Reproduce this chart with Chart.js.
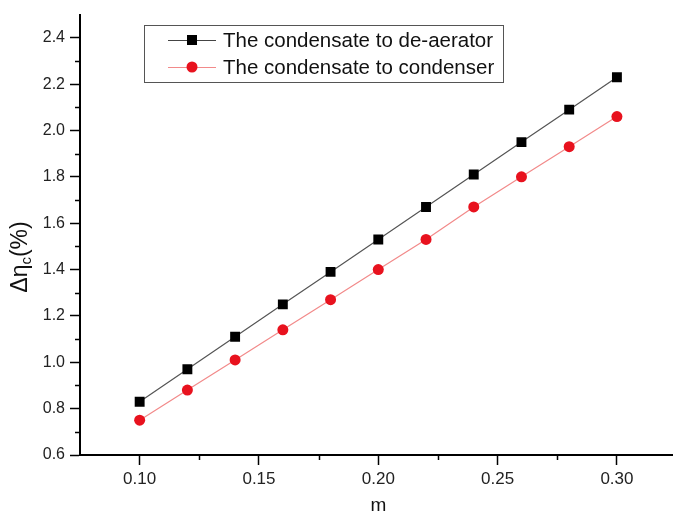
<!DOCTYPE html>
<html>
<head>
<meta charset="utf-8">
<script src="https://cdn.jsdelivr.net/npm/chart.js@4.4.0/dist/chart.umd.min.js"></script>
<style>
  body { margin: 0; background: #fff; }
</style>
</head>
<body>
<canvas id="chart" width="673" height="516"></canvas>
<script>
const mValues = [0.10, 0.12, 0.14, 0.16, 0.18, 0.20, 0.22, 0.24, 0.26, 0.28, 0.30];
const deaeratorValues = [0.83, 0.97, 1.11, 1.25, 1.39, 1.53, 1.67, 1.81, 1.95, 2.09, 2.23];
const condenserValues = [0.75, 0.88, 1.01, 1.14, 1.27, 1.40, 1.53, 1.67, 1.80, 1.93, 2.06];
const seriesNames = ["The condensate to de-aerator", "The condensate to condenser"];
const xTickLabels = [0.10, 0.15, 0.20, 0.25, 0.30];
const xMinorTicks = [0.125, 0.175, 0.225, 0.275];
const yTickLabels = [0.6, 0.8, 1.0, 1.2, 1.4, 1.6, 1.8, 2.0, 2.2, 2.4];
const yMinorTicks = [0.7, 0.9, 1.1, 1.3, 1.5, 1.7, 1.9, 2.1, 2.3];

const FONT = "'Liberation Sans', Arial, sans-serif";

// minor ticks, framed legend and the y title with its subscript
const extras = {
    id: "extras",
    afterDraw(chart) {
        const ctx = chart.ctx;
        const xs = chart.scales.x;
        const ys = chart.scales.y;
        const area = chart.chartArea;

        ctx.save();
        ctx.strokeStyle = "#000";
        ctx.lineWidth = 1.5;
        ctx.beginPath();
        yMinorTicks.forEach(v => {
            const py = Math.round(ys.getPixelForValue(v)) + 0.5;
            ctx.moveTo(area.left, py);
            ctx.lineTo(area.left - 5, py);
        });
        xMinorTicks.forEach(v => {
            const px = Math.round(xs.getPixelForValue(v)) + 0.5;
            ctx.moveTo(px, area.bottom);
            ctx.lineTo(px, area.bottom + 5);
        });
        ctx.stroke();

        // legend
        ctx.lineWidth = 1;
        ctx.strokeStyle = "#555";
        ctx.strokeRect(144.5, 25.5, 359, 57);
        const rows = [
            { y: 40, line: "#444", fill: "#000", shape: "rect" },
            { y: 67, line: "#f28a8a", fill: "#e8121e", shape: "circle" }
        ];
        ctx.font = "20.5px " + FONT;
        ctx.textBaseline = "middle";
        rows.forEach((r, i) => {
            ctx.strokeStyle = r.line;
            ctx.beginPath();
            ctx.moveTo(168, r.y + 0.5);
            ctx.lineTo(216, r.y + 0.5);
            ctx.stroke();
            ctx.fillStyle = r.fill;
            if (r.shape === "rect") {
                ctx.fillRect(187, r.y - 5, 10, 10);
            } else {
                ctx.beginPath();
                ctx.arc(192, r.y, 5.5, 0, Math.PI * 2);
                ctx.fill();
            }
            ctx.fillStyle = "#111";
            ctx.fillText(seriesNames[i], 223, r.y + 1);
        });

        // y axis title
        ctx.translate(21, 257);
        ctx.rotate(-Math.PI / 2);
        ctx.fillStyle = "#111";
        ctx.textBaseline = "middle";
        const big = "23px " + FONT;
        const small = "15px " + FONT;
        ctx.font = big;
        const w1 = ctx.measureText("\u0394\u03b7").width;
        const w3 = ctx.measureText("(%)").width;
        ctx.font = small;
        const w2 = ctx.measureText("c").width;
        let x = -(w1 + w2 + w3) / 2;
        ctx.font = big;
        ctx.fillText("\u0394\u03b7", x, 0);
        x += w1;
        ctx.font = small;
        ctx.fillText("c", x, 6);
        x += w2;
        ctx.font = big;
        ctx.fillText("(%)", x, 0);
        ctx.restore();

        // x axis title
        ctx.save();
        ctx.font = "19px " + FONT;
        ctx.fillStyle = "#111";
        ctx.textAlign = "center";
        ctx.textBaseline = "middle";
        ctx.fillText("m", xs.getPixelForValue(0.2), 506);
        ctx.restore();
    }
};

new Chart(document.getElementById("chart").getContext("2d"), {
    type: "line",
    data: {
        datasets: [
            {
                label: seriesNames[0],
                data: mValues.map((m, i) => ({ x: m, y: deaeratorValues[i] })),
                borderColor: "#555",
                borderWidth: 1.2,
                pointStyle: "rect",
                pointRadius: 7,
                pointBackgroundColor: "#000",
                pointBorderColor: "#000",
                pointBorderWidth: 0
            },
            {
                label: seriesNames[1],
                data: mValues.map((m, i) => ({ x: m, y: condenserValues[i] })),
                borderColor: "#f28a8a",
                borderWidth: 1.2,
                pointStyle: "circle",
                pointRadius: 5.5,
                pointBackgroundColor: "#e8121e",
                pointBorderColor: "#e8121e",
                pointBorderWidth: 0
            }
        ]
    },
    options: {
        responsive: false,
        animation: false,
        devicePixelRatio: 1,
        layout: { autoPadding: false, padding: { top: 12, right: 0, left: 0, bottom: 0 } },
        plugins: {
            legend: { display: false },
            tooltip: { enabled: false }
        },
        scales: {
            x: {
                type: "linear",
                min: 0.075,
                max: 0.3235,
                afterBuildTicks: s => { s.ticks = xTickLabels.map(v => ({ value: v })); },
                afterFit: s => { s.height = 61; s.paddingLeft = 0; s.paddingRight = 0; },
                border: { color: "#000", width: 2 },
                grid: { drawOnChartArea: false, tickLength: 10, tickColor: "#000", tickWidth: 1.5 },
                ticks: {
                    padding: 4,
                    color: "#222",
                    font: { family: FONT, size: 17 },
                    callback: v => v.toFixed(2)
                }
            },
            y: {
                min: 0.6,
                max: 2.5,
                afterBuildTicks: s => { s.ticks = yTickLabels.map(v => ({ value: v })); },
                afterFit: s => { s.width = 80; },
                border: { color: "#000", width: 2 },
                grid: { drawOnChartArea: false, tickLength: 10, tickColor: "#000", tickWidth: 1.5 },
                ticks: {
                    padding: 5,
                    color: "#222",
                    font: { family: FONT, size: 16 },
                    callback: v => v.toFixed(1)
                }
            }
        }
    },
    plugins: [extras]
});
</script>
</body>
</html>
